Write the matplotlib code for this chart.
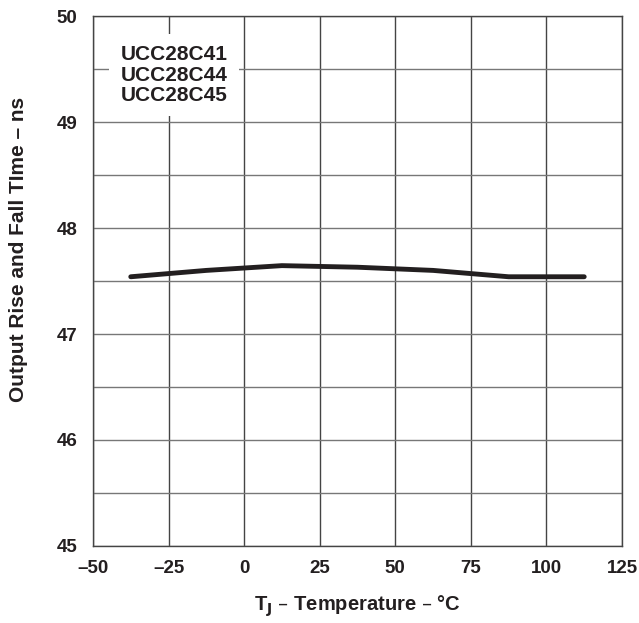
import matplotlib
matplotlib.use("Agg")
import matplotlib.pyplot as plt

temps = [-37.5, -12.5, 12.5, 37.5, 62.5, 87.5, 112.5]
times = [47.54, 47.60, 47.645, 47.63, 47.60, 47.54, 47.54]
xticks = [-50, -25, 0, 25, 50, 75, 100, 125]
xlabels = ["\u201350", "\u201325", "0", "25", "50", "75", "100", "125"]
yticks = [45, 46, 47, 48, 49, 50]

plt.rcParams['font.family'] = ['Liberation Sans', 'DejaVu Sans']
fig = plt.figure(figsize=(6.39, 6.23), dpi=100)
ax = fig.add_axes([0.1455, 0.1236, 0.8279, 0.8507])
ax.set_xlim(-50, 125)
ax.set_ylim(45, 50)

for x in range(-50, 126, 25):
    ax.axvline(x, color='#444444', lw=1.0, zorder=1)
for i in range(11):
    ax.axhline(45 + 0.5 * i, color='#777777', lw=1.0, zorder=1)

ax.plot(temps, times, color='#231f20', lw=3.5, solid_capstyle='round', zorder=3)

ax.set_xticks(xticks)
ax.set_xticklabels(xlabels)
ax.set_yticks(yticks)
ax.tick_params(axis='x', length=0, labelsize=13.5, pad=10, colors='#231f20')
ax.tick_params(axis='y', length=0, labelsize=13.5, pad=11, colors='#231f20')
for lab in ax.get_xticklabels() + ax.get_yticklabels():
    lab.set_fontweight('bold')
for s in ax.spines.values():
    s.set_color('#444444')
    s.set_linewidth(1.0)

ax.set_xlabel("T$_\\mathbf{J}$ \u2013 Temperature \u2013 \u00b0C", fontsize=14.5,
              fontweight='bold', labelpad=12, color='#231f20')
ax.set_ylabel("Output Rise and Fall TIme \u2013 ns", fontsize=15,
              fontweight='bold', color='#231f20')
ax.yaxis.set_label_coords(-0.122, 0.56)

ax.text(-23.2, 49.44, "UCC28C41\nUCC28C44\nUCC28C45", fontsize=15, fontweight='bold',
        ha='center', va='center', linespacing=1.1, color='#231f20',
        bbox=dict(facecolor='white', edgecolor='none', pad=8), zorder=4)

fig.savefig("out.png", dpi=100)
